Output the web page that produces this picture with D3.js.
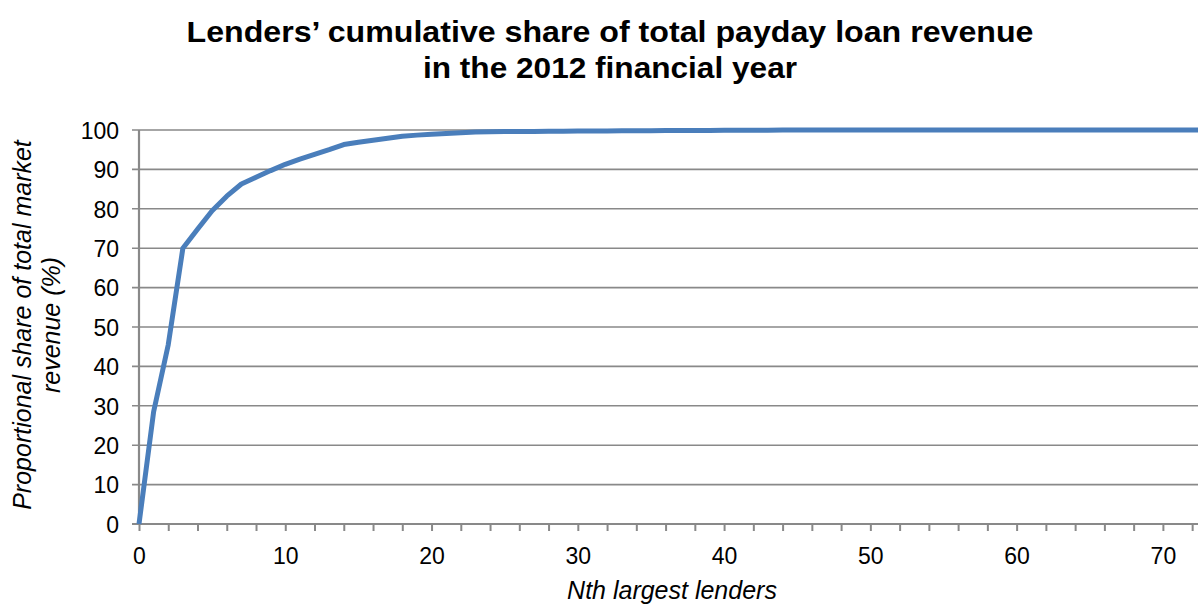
<!DOCTYPE html>
<html>
<head>
<meta charset="utf-8">
<script src="https://cdn.jsdelivr.net/npm/d3@7/dist/d3.min.js"></script>
<style>
  html, body { margin: 0; padding: 0; background: #fff; }
  svg { display: block; font-family: "Liberation Sans", Arial, sans-serif; }
</style>
</head>
<body>
<svg id="chart" width="1198" height="604"></svg>
<script>
// Nth largest lender (rank) and cumulative share of revenue (%)
const lenderRank = d3.range(0, 74);
const cumulativeShare = [
  0, 28.5, 45.5, 70, 74.8, 79.5, 83.2, 86.3, 88, 89.7,
  91.3, 92.6, 93.8, 95, 96.3, 96.9, 97.4, 97.9, 98.4, 98.7,
  98.9, 99.1, 99.3, 99.5, 99.55, 99.6, 99.6, 99.65, 99.7, 99.7,
  99.72, 99.75, 99.77, 99.8, 99.82, 99.84, 99.85, 99.86, 99.88, 99.9,
  99.92, 99.93, 99.95, 99.96, 99.98, 100, 100, 100, 100, 100,
  100, 100, 100, 100, 100, 100, 100, 100, 100, 100,
  100, 100, 100, 100, 100, 100, 100, 100, 100, 100,
  100, 100, 100, 100
];
const xTickValues = [0, 10, 20, 30, 40, 50, 60, 70];
const yTickValues = [0, 10, 20, 30, 40, 50, 60, 70, 80, 90, 100];
const titleLines = ["Lenders\u2019 cumulative share of total payday loan revenue", "in the 2012 financial year"];
const yTitleLines = ["Proportional share of total market", "revenue (%)"];
const xTitle = "Nth largest lenders";

const svg = d3.select("#chart");
const plotLeft = 139, plotRight = 1198, plotTop = 130, plotBottom = 524;

const x = d3.scaleLinear().domain([0, 72.4]).range([plotLeft, plotRight]);
const y = d3.scaleLinear().domain([0, 100]).range([plotBottom, plotTop]);

const gridColor = "#898989";

// horizontal gridlines (extend left as tick marks)
svg.append("g")
  .selectAll("line")
  .data(yTickValues)
  .join("line")
  .attr("x1", plotLeft - 7)
  .attr("x2", plotRight)
  .attr("y1", d => y(d))
  .attr("y2", d => y(d))
  .attr("stroke", gridColor)
  .attr("stroke-width", d => d === 0 ? 2.2 : 1.6);

// y axis labels
svg.append("g")
  .selectAll("text")
  .data(yTickValues)
  .join("text")
  .attr("x", plotLeft - 20)
  .attr("y", d => y(d))
  .attr("dy", "0.38em")
  .attr("text-anchor", "end")
  .attr("font-size", 23)
  .attr("fill", "#000")
  .text(d => d);

// vertical axis line
svg.append("line")
  .attr("x1", plotLeft).attr("x2", plotLeft)
  .attr("y1", plotTop).attr("y2", plotBottom)
  .attr("stroke", gridColor)
  .attr("stroke-width", 2.2);

// x axis: minor ticks every 2 ranks, labels every 10
const xAxis = d3.axisBottom(x)
  .tickValues(d3.range(0, 73, 2))
  .tickSize(7)
  .tickFormat(d => xTickValues.includes(d) ? d : "");
const gx = svg.append("g")
  .attr("transform", `translate(0,${plotBottom})`)
  .call(xAxis);
gx.select(".domain").remove();
gx.selectAll(".tick line").attr("stroke", gridColor).attr("stroke-width", 2);
gx.selectAll(".tick text")
  .attr("font-size", 23)
  .attr("fill", "#000")
  .attr("font-family", "Liberation Sans, Arial, sans-serif")
  .attr("y", 40)
  .attr("dy", null);

// cumulative share line, clipped at the plot's right edge
svg.append("clipPath").attr("id", "plot-clip")
  .append("rect")
  .attr("x", 0).attr("y", 0)
  .attr("width", plotRight).attr("height", 604);

const line = d3.line()
  .x((d, i) => x(lenderRank[i]))
  .y(d => y(d));
svg.append("path")
  .datum(cumulativeShare)
  .attr("clip-path", "url(#plot-clip)")
  .attr("fill", "none")
  .attr("stroke", "#4a7ebb")
  .attr("stroke-width", 5)
  .attr("stroke-linejoin", "round")
  .attr("d", line);

// title
const titleWidths = [847, 374];
svg.append("text")
  .attr("text-anchor", "middle")
  .attr("font-weight", "bold")
  .attr("font-size", 30)
  .selectAll("tspan")
  .data(titleLines)
  .join("tspan")
  .attr("x", 610)
  .attr("y", (d, i) => 42 + i * 36)
  .attr("textLength", (d, i) => titleWidths[i])
  .attr("lengthAdjust", "spacingAndGlyphs")
  .text(d => d);

// y axis title
svg.append("text")
  .attr("transform", "translate(0,325) rotate(-90)")
  .attr("text-anchor", "middle")
  .attr("font-style", "italic")
  .attr("font-size", 25)
  .selectAll("tspan")
  .data(yTitleLines)
  .join("tspan")
  .attr("x", 0)
  .attr("y", (d, i) => 31 + i * 29)
  .text(d => d);

// x axis title
svg.append("text")
  .attr("x", 672)
  .attr("y", 599)
  .attr("text-anchor", "middle")
  .attr("font-style", "italic")
  .attr("font-size", 25)
  .text(xTitle);
</script>
</body>
</html>
